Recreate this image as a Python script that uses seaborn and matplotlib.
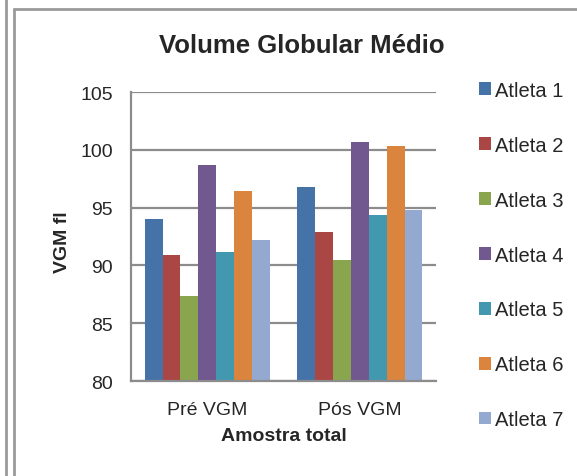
import matplotlib
matplotlib.use("Agg")
import matplotlib.pyplot as plt
from matplotlib.lines import Line2D
from matplotlib.patches import Patch
import seaborn as sns
import pandas as pd

# data
momentos = ["Pré VGM", "Pós VGM"]
atletas = ["Atleta 1", "Atleta 2", "Atleta 3", "Atleta 4", "Atleta 5", "Atleta 6", "Atleta 7"]
pre_vgm = [94.0, 90.9, 87.4, 98.7, 91.2, 96.4, 92.2]
pos_vgm = [96.8, 92.9, 90.5, 100.7, 94.4, 100.3, 94.8]
cores = ["#4572A7", "#AA4643", "#89A54E", "#71588F", "#4198AF", "#DB843D", "#93A9CF"]

df = pd.DataFrame({
    "momento": [momentos[0]] * len(atletas) + [momentos[1]] * len(atletas),
    "atleta": atletas + atletas,
    "vgm": pre_vgm + pos_vgm,
})

sns.set_style("white")
plt.rcParams["font.family"] = ["Liberation Sans", "DejaVu Sans"]

fig = plt.figure(figsize=(5.77, 4.77), dpi=100)
ax = fig.add_axes([0.227, 0.199, 0.529, 0.606])

sns.barplot(data=df, x="momento", y="vgm", hue="atleta", palette=cores,
            order=momentos, hue_order=atletas, width=0.82, saturation=1,
            edgecolor="none", ax=ax, legend=False)

ax.set_ylim(80, 105)
ax.set_yticks([80, 85, 90, 95, 100, 105])
ax.set_xlim(-0.5, 1.5)
ax.yaxis.grid(True, color="#8c8c8c", linewidth=1.6)
ax.set_axisbelow(True)
for s in ["top", "right"]:
    ax.spines[s].set_visible(False)
for s in ["left", "bottom"]:
    ax.spines[s].set_color("#8c8c8c")
    ax.spines[s].set_linewidth(1.6)
ax.tick_params(axis="y", length=3, width=1.2, color="#8c8c8c", pad=10, labelsize=14)
ax.tick_params(axis="x", length=0, pad=14, labelsize=14)

fig.text(302 / 577, 1 - 46 / 477, "Volume Globular Médio", fontsize=18.5,
         fontweight="bold", ha="center", va="center")
ax.set_xlabel("Amostra total", fontsize=14, fontweight="bold", labelpad=7)
ax.set_ylabel("VGM fl", fontsize=14, fontweight="bold")
ax.yaxis.set_label_coords(-0.197, 0.484)

handles = [Patch(facecolor=c, edgecolor="none") for c in cores]
fig.legend(handles, atletas, loc="upper left", bbox_to_anchor=(0.8156, 0.845),
           frameon=False, fontsize=14.5, handlelength=0.6, handleheight=0.6,
           handletextpad=0.2, labelspacing=1.78, borderaxespad=0)

# frame lines around the chart
grey = "#9a9a9a"
fig.add_artist(Line2D([6 / 577, 6 / 577], [0, 1], color=grey, linewidth=2))
fig.add_artist(Line2D([14 / 577, 14 / 577], [0, 1 - 10 / 477], color=grey, linewidth=2))
fig.add_artist(Line2D([14 / 577, 1], [1 - 10 / 477, 1 - 10 / 477], color=grey, linewidth=2))

fig.savefig("out.png", dpi=100)
